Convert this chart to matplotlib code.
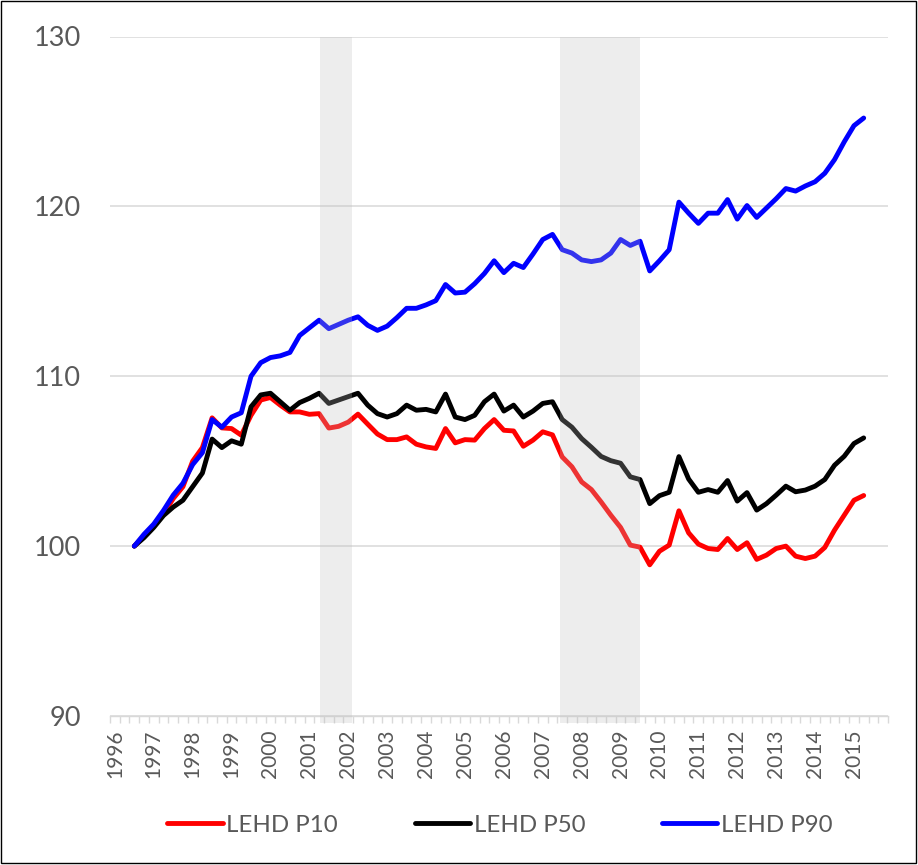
import matplotlib
matplotlib.use("Agg")
import matplotlib.pyplot as plt
import numpy as np
import pandas as pd
from matplotlib.patches import Rectangle

# ---------------- data ----------------
start_q = "1996Q3"
end_q = "2015Q2"
years = list(range(1996, 2016))

p10 = [100.0, 100.6, 101.2, 101.9, 102.8, 103.5, 105.0, 105.8, 107.55, 106.96,
       106.92, 106.53, 107.7, 108.6, 108.75, 108.3, 107.9, 107.9, 107.76, 107.8,
       106.95, 107.05, 107.3, 107.77, 107.18, 106.6, 106.27, 106.27, 106.43, 106.0,
       105.84, 105.75, 106.92, 106.08, 106.27, 106.24, 106.92, 107.45, 106.82, 106.78,
       105.88, 106.24, 106.73, 106.55, 105.25, 104.67, 103.78, 103.33, 102.6, 101.82,
       101.1, 100.06, 99.94, 98.9, 99.7, 100.06, 102.08, 100.78, 100.12, 99.86,
       99.8, 100.45, 99.8, 100.2, 99.22, 99.47, 99.86, 100.0, 99.41, 99.27,
       99.41, 99.92, 100.94, 101.82, 102.7, 102.98]

p50 = [100.0, 100.5, 101.1, 101.8, 102.3, 102.7, 103.5, 104.3, 106.3, 105.8,
       106.2, 106.0, 108.2, 108.9, 109.0, 108.5, 108.0, 108.45, 108.7, 109.0,
       108.4, 108.6, 108.8, 109.0, 108.3, 107.8, 107.6, 107.8, 108.3, 108.0,
       108.05, 107.9, 108.95, 107.6, 107.45, 107.7, 108.5, 108.95, 107.95, 108.3,
       107.6, 107.95, 108.4, 108.5, 107.45, 107.0, 106.33, 105.82, 105.28, 105.03,
       104.88, 104.08, 103.92, 102.5, 102.97, 103.17, 105.27, 103.95, 103.17, 103.33,
       103.17, 103.86, 102.65, 103.15, 102.12, 102.5, 103.0, 103.53, 103.2, 103.3,
       103.53, 103.92, 104.76, 105.29, 106.04, 106.37]

p90 = [100.0, 100.7, 101.3, 102.1, 103.0, 103.7, 104.8, 105.5, 107.45, 107.0,
       107.6, 107.85, 110.0, 110.8, 111.1, 111.2, 111.4, 112.4, 112.85, 113.3,
       112.8, 113.05, 113.3, 113.5, 113.0, 112.7, 112.95, 113.45, 114.0, 114.0,
       114.2, 114.45, 115.4, 114.9, 114.95, 115.45, 116.05, 116.8, 116.1, 116.65,
       116.4, 117.2, 118.05, 118.35, 117.45, 117.25, 116.85, 116.75, 116.85, 117.25,
       118.05, 117.7, 117.95, 116.2, 116.8, 117.45, 120.25, 119.6, 119.0, 119.6,
       119.6, 120.4, 119.25, 120.05, 119.35, 119.9, 120.45, 121.05, 120.9, 121.2,
       121.45, 121.95, 122.75, 123.8, 124.75, 125.2]

series_names = ["LEHD P10", "LEHD P50", "LEHD P90"]
series_colors = ["#ff0000", "#000000", "#0000ff"]

# recession shading, in quarter-index units (0 = 1996Q1)
recessions = [(21.1, 24.4), (45.8, 54.0)]

# ---------------- figure ----------------
W, H = 918, 865
fig = plt.figure(figsize=(W / 100, H / 100), dpi=100)
fig.patch.set_facecolor("white")

ax = fig.add_axes([110 / W, 1 - 716 / H, 778 / W, (716 - 36.5) / H])

periods = pd.period_range(start_q, end_q, freq="Q")
xq = np.asarray((periods.year - years[0]) * 4 + (periods.quarter - 1))

handles = []
for vals, name, col in zip([p10, p50, p90], series_names, series_colors):
    ln, = ax.plot(xq, vals, color=col, lw=3.5, label=name, zorder=3,
                  solid_joinstyle="round", solid_capstyle="round")
    handles.append(ln)

for a, b in recessions:
    ax.axvspan(a, b, ymin=-7 / 680, ymax=1, color="#bfbfbf", alpha=0.27,
               lw=0, zorder=4, clip_on=False)

ax.set_xlim(-0.5, len(years) * 4 - 0.5)
ax.set_ylim(90, 130)
ax.set_yticks([90, 100, 110, 120, 130])
ax.yaxis.grid(True, color="#d9d9d9", lw=1.1, zorder=0)
ax.set_axisbelow(True)

for s in ["left", "right", "top"]:
    ax.spines[s].set_visible(False)
ax.spines["bottom"].set_color("#d9d9d9")
ax.spines["bottom"].set_linewidth(1.0)

gray = "#595959"
font = ["Lato", "DejaVu Sans"]

ax.tick_params(axis="y", length=0, pad=21, labelsize=19.5, labelcolor=gray)
for t in ax.get_yticklabels():
    t.set_fontfamily(font)

ax.set_xticks(np.arange(len(years)) * 4)
ax.set_xticklabels([str(y) for y in years], rotation=90, fontfamily=font)
ax.set_xticks(np.arange(-0.5, len(years) * 4, 1), minor=True)
ax.tick_params(axis="x", which="major", length=0, pad=10, labelsize=15,
               labelcolor=gray)
ax.tick_params(axis="x", which="minor", length=5, width=1.0, color="#d9d9d9")

leg = fig.legend(handles=handles, labels=series_names, loc="center",
                 bbox_to_anchor=(500 / W, 1 - 825 / H), ncol=3, frameon=False,
                 handlelength=2.3, handletextpad=0.15, columnspacing=3.2,
                 prop={"family": font, "size": 17.3}, labelcolor=gray)

# chart border
fig.patches.append(Rectangle((0.5 / W, 2.5 / H), 915 / W, 862 / H,
                             transform=fig.transFigure, fill=False,
                             edgecolor="#000000", lw=1.0))

fig.savefig("out.png", dpi=100, facecolor="white")
